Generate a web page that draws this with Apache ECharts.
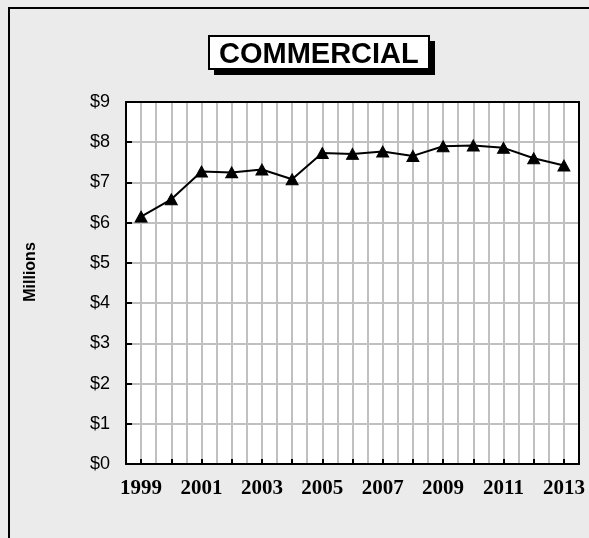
<!DOCTYPE html>
<html>
<head>
<meta charset="utf-8">
<script src="https://cdn.jsdelivr.net/npm/echarts@6/dist/echarts.min.js"></script>
<style>
html,body{margin:0;padding:0;background:#ebebeb;}
#c{width:589px;height:538px;}
</style>
</head>
<body>
<div id="c"></div>
<script>
var years = ['1999','2000','2001','2002','2003','2004','2005','2006','2007','2008','2009','2010','2011','2012','2013'];
var values = [6.15, 6.58, 7.27, 7.25, 7.32, 7.08, 7.73, 7.71, 7.77, 7.66, 7.90, 7.92, 7.86, 7.60, 7.42];
var yTicks = [0, 1, 2, 3, 4, 5, 6, 7, 8, 9];
var titleText = 'COMMERCIAL';
var yName = 'Millions';

var chart = echarts.init(document.getElementById('c'), null, {renderer: 'canvas'});
chart.setOption({
  backgroundColor: '#ebebeb',
  animation: false,
  graphic: [
    {type: 'rect', left: 8, top: 7, shape: {width: 700, height: 700}, style: {fill: 'transparent', stroke: '#000', lineWidth: 2}, z: -1},
    {type: 'rect', left: 214, top: 41, shape: {width: 221, height: 34}, style: {fill: '#000'}, z: 0},
    {type: 'text', x: 31, y: 272, rotation: Math.PI / 2,
     style: {text: yName, fontFamily: 'Arial, Liberation Sans, sans-serif', fontWeight: 'bold', fontSize: 16, fill: '#000', align: 'center', verticalAlign: 'middle'}}
  ],
  title: {
    text: titleText,
    left: 209, top: 36,
    padding: [5, 10, 0, 10],
    backgroundColor: '#fff',
    borderColor: '#000',
    borderWidth: 2,
    z: 10,
    textStyle: {fontFamily: 'Arial, Liberation Sans, sans-serif', fontWeight: 'bold', fontSize: 29, lineHeight: 28, color: '#000'}
  },
  grid: {left: 126, right: 10, top: 102, bottom: 74, show: true, backgroundColor: '#fff', borderWidth: 0},
  xAxis: [
    {
      type: 'category', data: years, boundaryGap: true, position: 'bottom',
      axisLine: {show: true, lineStyle: {color: '#000', width: 2}},
      axisTick: {show: true, inside: true, length: 5, alignWithLabel: true, interval: 0, lineStyle: {color: '#000', width: 2}},
      axisLabel: {interval: 1, margin: 14, color: '#000', fontFamily: 'Times New Roman, Liberation Serif, serif', fontWeight: 'bold', fontSize: 21},
      splitLine: {show: false}
    },
    {
      type: 'value', min: 0, max: 30, interval: 1, position: 'top',
      axisLine: {show: true, onZero: false, lineStyle: {color: '#000', width: 2}},
      axisTick: {show: false}, axisLabel: {show: false},
      splitLine: {show: true, lineStyle: {color: '#c0c0c0', width: 2}}
    }
  ],
  yAxis: [
    {
      type: 'value', min: 0, max: 9, interval: 1,
      axisLine: {show: true, lineStyle: {color: '#000', width: 2}},
      axisTick: {show: true, inside: true, length: 6, lineStyle: {color: '#000', width: 2}},
      axisLabel: {margin: 16, color: '#000', fontFamily: 'Arial, Liberation Sans, sans-serif', fontSize: 18,
        formatter: function (v) { return yTicks.indexOf(v) >= 0 ? '$' + v : ''; }},
      splitLine: {show: true, lineStyle: {color: '#c0c0c0', width: 2}}
    },
    {
      type: 'value', min: 0, max: 9, interval: 1, position: 'right',
      axisLine: {show: true, onZero: false, lineStyle: {color: '#000', width: 2}},
      axisTick: {show: false}, axisLabel: {show: false}, splitLine: {show: false}
    }
  ],
  series: [{
    type: 'line', data: values, xAxisIndex: 0, yAxisIndex: 0,
    symbol: 'triangle', symbolSize: [12, 11], showAllSymbol: true,
    lineStyle: {color: '#000', width: 2},
    itemStyle: {color: '#000', borderColor: '#000'},
    z: 5
  }]
});
</script>
</body>
</html>
